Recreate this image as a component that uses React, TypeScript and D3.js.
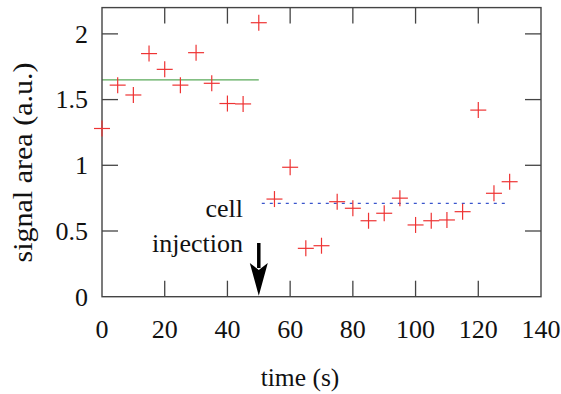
import React, { useEffect, useRef } from "react";
import * as d3 from "d3";

const times = [0, 5, 10, 15, 20, 25, 30, 35, 40, 45, 50, 55, 60, 65, 70, 75, 80, 85, 90, 95, 100, 105, 110, 115, 120, 125, 130];
const signal = [1.28, 1.61, 1.535, 1.85, 1.73, 1.61, 1.857, 1.624, 1.47, 1.467, 2.085, 0.743, 0.985, 0.368, 0.388, 0.723, 0.673, 0.578, 0.635, 0.75, 0.546, 0.578, 0.584, 0.647, 1.42, 0.787, 0.875];
const xTicks = [0, 20, 40, 60, 80, 100, 120, 140];
const yTicks = [0, 0.5, 1, 1.5, 2];
const yTickLabels = ["0", "0.5", "1", "1.5", "2"];
const beforeMean = { x0: 0, x1: 50, y: 1.65 };
const afterMean = { x0: 50, x1: 130, y: 0.71 };
const injectionTime = 50;
const annotationLines = ["cell", "injection"];

export default function App() {
  const ref = useRef<SVGSVGElement | null>(null);

  useEffect(() => {
    const svg = d3.select(ref.current);
    svg.selectAll("*").remove();
    const x = d3.scaleLinear().domain([0, 140]).range([102, 541]);
    const y = d3.scaleLinear().domain([0, 2.2]).range([296.7, 7.6]);
    const axisColor = "#444";
    const textColor = "#111";
    const font = "'Liberation Serif', 'DejaVu Serif', serif";
    const tickLen = 16;

    svg.append("line")
      .attr("x1", x(beforeMean.x0)).attr("x2", x(beforeMean.x1))
      .attr("y1", y(beforeMean.y)).attr("y2", y(beforeMean.y))
      .attr("stroke", "#5aaa5a").attr("stroke-width", 1.3);
    svg.append("line")
      .attr("x1", x(afterMean.x0) + 3).attr("x2", x(afterMean.x1))
      .attr("y1", y(afterMean.y)).attr("y2", y(afterMean.y))
      .attr("stroke", "#3a55cc").attr("stroke-width", 1.2)
      .attr("stroke-dasharray", "3,5");

    const [x0, x1] = x.range();
    const [yb, yt] = y.range();
    svg.append("rect")
      .attr("x", x0).attr("y", yt).attr("width", x1 - x0).attr("height", yb - yt)
      .attr("fill", "none").attr("stroke", axisColor).attr("stroke-width", 1.4);

    const xt = svg.append("g");
    xTicks.forEach((t) => {
      if (t !== 0 && t !== 140) {
        xt.append("line").attr("x1", x(t)).attr("x2", x(t)).attr("y1", yb).attr("y2", yb - tickLen)
          .attr("stroke", axisColor).attr("stroke-width", 1.3);
        xt.append("line").attr("x1", x(t)).attr("x2", x(t)).attr("y1", yt).attr("y2", yt + tickLen)
          .attr("stroke", axisColor).attr("stroke-width", 1.3);
      }
      xt.append("text").attr("x", x(t)).attr("y", 338)
        .attr("text-anchor", "middle").attr("font-family", font).attr("font-size", 26)
        .attr("fill", textColor).text(String(t));
    });

    const ytg = svg.append("g");
    yTicks.forEach((v, i) => {
      if (v !== 0) {
        ytg.append("line").attr("x1", x0).attr("x2", x0 + tickLen).attr("y1", y(v)).attr("y2", y(v))
          .attr("stroke", axisColor).attr("stroke-width", 1.3);
        ytg.append("line").attr("x1", x1).attr("x2", x1 - tickLen).attr("y1", y(v)).attr("y2", y(v))
          .attr("stroke", axisColor).attr("stroke-width", 1.3);
      }
      ytg.append("text").attr("x", 88).attr("y", y(v)).attr("dy", "0.34em")
        .attr("text-anchor", "end").attr("font-family", font).attr("font-size", 26)
        .attr("fill", textColor).text(yTickLabels[i]);
    });

    svg.append("text").attr("x", 300).attr("y", 386).attr("text-anchor", "middle")
      .attr("font-family", font).attr("font-size", 25.5).attr("fill", textColor).text("time (s)");
    svg.append("text").attr("transform", `translate(32,${(62 + 263) / 2}) rotate(-90)`)
      .attr("text-anchor", "middle").attr("font-family", font).attr("font-size", 27)
      .attr("textLength", 200).attr("lengthAdjust", "spacingAndGlyphs")
      .attr("fill", textColor).text("signal area (a.u.)");

    svg.append("text").attr("x", 243).attr("y", 217).attr("text-anchor", "end")
      .attr("font-family", font).attr("font-size", 26).attr("fill", textColor).text(annotationLines[0]);
    svg.append("text").attr("x", 243).attr("y", 252).attr("text-anchor", "end")
      .attr("font-family", font).attr("font-size", 26).attr("fill", textColor).text(annotationLines[1]);

    const ax = x(injectionTime);
    svg.append("line").attr("x1", ax).attr("x2", ax).attr("y1", 243).attr("y2", 268)
      .attr("stroke", "#000").attr("stroke-width", 3.5);
    svg.append("path")
      .attr("d", `M${ax - 9},263 L${ax},${yb - 1} L${ax + 9},263 L${ax},270 Z`)
      .attr("fill", "#000");

    const s = 8;
    const pts = svg.append("g").attr("stroke", "#ee3333").attr("stroke-width", 1.2);
    times.forEach((t, i) => {
      const px = x(t), py = y(signal[i]);
      pts.append("line").attr("x1", px - s).attr("x2", px + s).attr("y1", py).attr("y2", py);
      pts.append("line").attr("x1", px).attr("x2", px).attr("y1", py - s).attr("y2", py + s);
    });
  }, []);

  return (
    <svg ref={ref} width={561} height={394}
      style={{ position: "absolute", left: 0, top: 0, background: "#fff" }} />
  );
}
